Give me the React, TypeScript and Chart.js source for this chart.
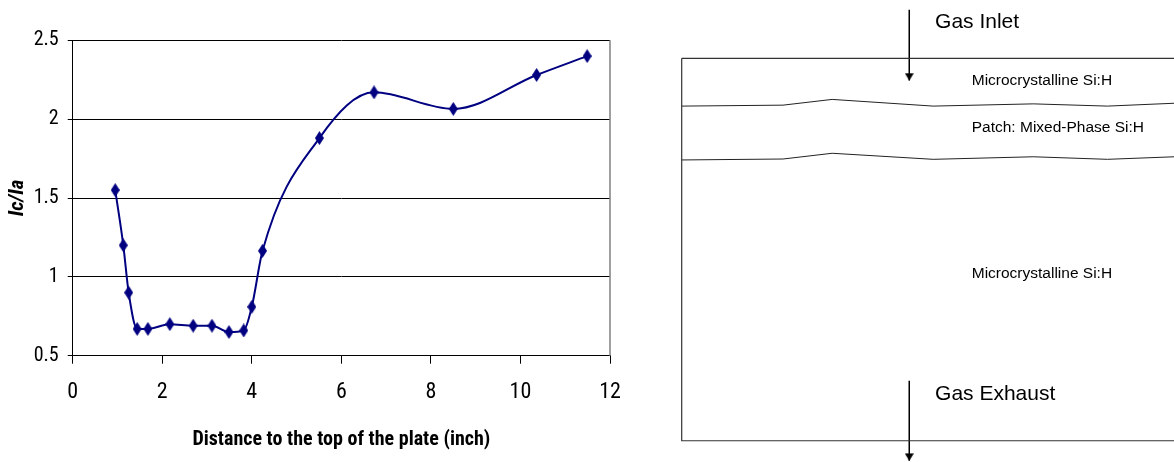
import React, { useEffect, useRef } from "react";
import { Chart, registerables } from "chart.js";

Chart.register(...registerables);

// ---- Left chart data ----
const distance = [0.95, 1.13, 1.25, 1.44, 1.68, 2.17, 2.69, 3.11, 3.49, 3.82, 4.0, 4.24, 5.51, 6.73, 8.5, 10.36, 11.49];
const icIa = [1.55, 1.2, 0.9, 0.67, 0.67, 0.7, 0.69, 0.69, 0.65, 0.66, 0.81, 1.165, 1.88, 2.17, 2.065, 2.28, 2.4];
const xTicks = [0, 2, 4, 6, 8, 10, 12];
const yTicks = [0.5, 1, 1.5, 2, 2.5];
const xTitle = "Distance to the top of the plate (inch)";
const yTitle = "Ic/Ia";

// ---- Right diagram data (plate coordinates, inches from top-left of plate) ----
const plateWidth = 17;
const plateLength = 12;
const boundaryX = [0, 3.18, 4.72, 7.89, 11.03, 13.36, 15.46];
const upperBoundary = [1.5, 1.47, 1.29, 1.5, 1.43, 1.5, 1.41];
const lowerBoundary = [3.19, 3.16, 2.98, 3.17, 3.09, 3.17, 3.09];
const layerLabels = ["Microcrystalline Si:H", "Patch: Mixed-Phase Si:H", "Microcrystalline Si:H"];
const layerLabelY = [0.7, 2.18, 6.75];
const layerLabelX = 9.1;
const flowLabels = ["Gas Inlet", "Gas Exhaust"];
const flowLabelY = [-1.13, 10.53];
const flowLabelX = 7.95;
const arrowX = 7.14;
const inletArrowY = [-1.52, 0.7];
const exhaustArrowY = [10.12, 12.63];

const NARROW = "'Liberation Sans Narrow', 'Arial Narrow', 'Roboto Condensed', sans-serif";
const SANS = "'Liberation Sans', Arial, sans-serif";

function makeDiamond(w: number, h: number, color: string) {
  const c = document.createElement("canvas");
  c.width = w;
  c.height = h;
  const g = c.getContext("2d")!;
  g.fillStyle = color;
  g.beginPath();
  g.moveTo(w / 2, 0);
  g.lineTo(w, h / 2);
  g.lineTo(w / 2, h);
  g.lineTo(0, h / 2);
  g.closePath();
  g.fill();
  return c;
}

function makeArrowHead(w: number, h: number, color: string) {
  // tip of the triangle sits at the canvas centre
  const c = document.createElement("canvas");
  c.width = w;
  c.height = h * 2;
  const g = c.getContext("2d")!;
  g.fillStyle = color;
  g.beginPath();
  g.moveTo(0, 0.5);
  g.lineTo(w, 0.5);
  g.lineTo(w / 2, h);
  g.closePath();
  g.fill();
  return c;
}

const rightBorder = {
  id: "rightBorder",
  afterDraw(chart: any) {
    const { ctx, chartArea } = chart;
    ctx.save();
    ctx.strokeStyle = "#808080";
    ctx.lineWidth = 1.5;
    ctx.beginPath();
    ctx.moveTo(chartArea.right, chartArea.top);
    ctx.lineTo(chartArea.right, chartArea.bottom);
    ctx.stroke();
    ctx.restore();
  },
};

const diagramLabels = {
  id: "diagramLabels",
  afterDatasetsDraw(chart: any) {
    const { ctx, scales } = chart;
    const xs = scales.x;
    const ys = scales.y;
    ctx.save();
    ctx.fillStyle = "#000";
    ctx.textAlign = "left";
    ctx.textBaseline = "middle";
    ctx.font = `15.5px ${SANS}`;
    layerLabels.forEach((t, i) => {
      ctx.fillText(t, xs.getPixelForValue(layerLabelX), ys.getPixelForValue(layerLabelY[i]));
    });
    ctx.font = `21px ${SANS}`;
    flowLabels.forEach((t, i) => {
      ctx.fillText(t, xs.getPixelForValue(flowLabelX), ys.getPixelForValue(flowLabelY[i]));
    });
    ctx.restore();
  },
};

export default function App() {
  const leftRef = useRef<HTMLCanvasElement>(null);
  const rightRef = useRef<HTMLCanvasElement>(null);

  useEffect(() => {
    document.body.style.margin = "0";
    const diamond = makeDiamond(9, 14, "#000080");
    const arrowHead = makeArrowHead(9, 8, "#000");

    const left = new Chart(leftRef.current!, {
      type: "scatter",
      data: {
        datasets: [
          {
            data: distance.map((x, i) => ({ x, y: icIa[i] })),
            showLine: true,
            borderColor: "#000080",
            borderWidth: 2,
            cubicInterpolationMode: "monotone",
            pointStyle: diamond as any,
            pointRadius: 6,
            pointBackgroundColor: "#000080",
            pointBorderColor: "#000080",
          },
        ],
      },
      options: {
        animation: false,
        responsive: false,
        maintainAspectRatio: false,
        layout: { autoPadding: false, padding: { left: 0, right: 30, top: 40.3, bottom: 0 } },
        plugins: { legend: { display: false }, tooltip: { enabled: false } },
        scales: {
          x: {
            type: "linear",
            min: 0,
            max: 12,
            afterBuildTicks: (s: any) => {
              s.ticks = xTicks.map((v) => ({ value: v }));
            },
            afterFit: (s: any) => {
              s.height = 106.3;
            },
            grid: { drawOnChartArea: false, drawTicks: true, tickLength: 8, color: "#000" },
            border: { color: "#000", width: 1 },
            ticks: {
              font: { family: NARROW, size: 22 },
              color: "#000",
              padding: 16,
              maxRotation: 0,
              autoSkip: false,
              callback: (v: any) => String(v),
            },
            title: {
              display: true,
              text: xTitle,
              color: "#000",
              font: { family: NARROW, size: 20, weight: "bold" },
              padding: { top: 0, bottom: 10 },
            },
          },
          y: {
            type: "linear",
            min: 0.5,
            max: 2.5,
            afterBuildTicks: (s: any) => {
              s.ticks = yTicks.map((v) => ({ value: v }));
            },
            afterFit: (s: any) => {
              s.width = 72.7;
            },
            grid: { color: "#000", lineWidth: 1, tickLength: 5 },
            border: { color: "#000", width: 1 },
            ticks: {
              font: { family: NARROW, size: 20 },
              color: "#000",
              padding: 9,
              autoSkip: false,
              callback: (v: any) => String(v),
            },
            title: {
              display: true,
              text: yTitle,
              color: "#000",
              font: { family: NARROW, size: 21, weight: "bold", style: "italic" },
              padding: { top: 5, bottom: 0 },
            },
          },
        },
      },
      plugins: [rightBorder],
    });

    const pxPerIn = 31.87;
    const right = new Chart(rightRef.current!, {
      type: "scatter",
      data: {
        datasets: [
          {
            data: [
              { x: 0, y: 0 },
              { x: plateWidth, y: 0 },
              { x: plateWidth, y: plateLength },
              { x: 0, y: plateLength },
              { x: 0, y: 0 },
            ],
            showLine: true,
            borderColor: "#333",
            borderWidth: 1.2,
            pointRadius: 0,
            tension: 0,
          },
          {
            data: boundaryX.map((x, i) => ({ x, y: upperBoundary[i] })),
            showLine: true,
            borderColor: "#222",
            borderWidth: 1,
            pointRadius: 0,
            tension: 0,
          },
          {
            data: boundaryX.map((x, i) => ({ x, y: lowerBoundary[i] })),
            showLine: true,
            borderColor: "#222",
            borderWidth: 1,
            pointRadius: 0,
            tension: 0,
          },
          {
            data: inletArrowY.map((y) => ({ x: arrowX, y })),
            showLine: true,
            borderColor: "#000",
            borderWidth: 1.5,
            pointRadius: [0, 5] as any,
            pointStyle: ((c: any) => (c.dataIndex === 1 ? arrowHead : "circle")) as any,
            tension: 0,
          },
          {
            data: exhaustArrowY.map((y) => ({ x: arrowX, y })),
            showLine: true,
            borderColor: "#000",
            borderWidth: 1.5,
            pointRadius: [0, 5] as any,
            pointStyle: ((c: any) => (c.dataIndex === 1 ? arrowHead : "circle")) as any,
            tension: 0,
          },
        ],
      },
      options: {
        animation: false,
        responsive: false,
        maintainAspectRatio: false,
        layout: { autoPadding: false, padding: 0 },
        plugins: { legend: { display: false }, tooltip: { enabled: false } },
        scales: {
          x: { type: "linear", display: false, min: -41.7 / pxPerIn, max: (534 - 41.7) / pxPerIn },
          y: { type: "linear", display: false, reverse: true, min: -58.3 / pxPerIn, max: (462 - 58.3) / pxPerIn },
        },
      },
      plugins: [diagramLabels],
    });

    return () => {
      left.destroy();
      right.destroy();
    };
  }, []);

  return (
    <div style={{ position: "relative", width: 1174, height: 462, background: "#fff" }}>
      <canvas ref={leftRef} width={640} height={462} style={{ position: "absolute", left: 0, top: 0, width: 640, height: 462 }} />
      <canvas ref={rightRef} width={534} height={462} style={{ position: "absolute", left: 640, top: 0, width: 534, height: 462 }} />
    </div>
  );
}
